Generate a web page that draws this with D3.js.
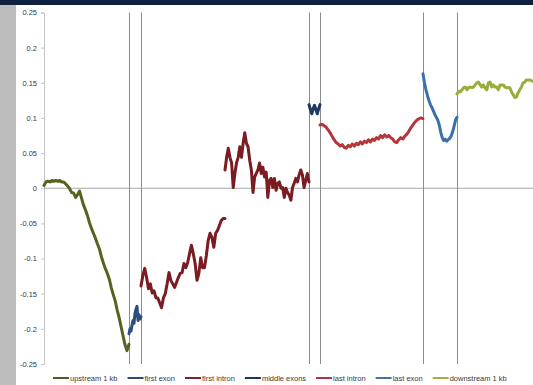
<!DOCTYPE html>
<html>
<head>
<meta charset="utf-8">
<script src="https://cdn.jsdelivr.net/npm/d3@7"></script>
<style>
  html, body { margin: 0; padding: 0; background: #ffffff; }
  svg { display: block; }
</style>
</head>
<body>
<svg id="chart" width="533" height="385"></svg>
<script>
// Relative position along the metagene (bins); region boundaries
const regionBounds = [0, 85, 97, 181, 265, 276, 379, 413, 489];
const separators = [85, 97, 265, 276, 379, 413];

const yTicks = [0.25, 0.2, 0.15, 0.1, 0.05, 0, -0.05, -0.1, -0.15, -0.2, -0.25];
const yTickLabels = ["0.25", "0.2", "0.15", "0.1", "0.05", "0", "-0.05", "-0.1", "-0.15", "-0.2", "-0.25"];

const seriesNames = ["upstream 1 kb", "first exon", "first intron", "middle exons", "last intron", "last exon", "downstream 1 kb"];
const seriesColors = ["#56631f", "#2c4d80", "#7a1c22", "#1f3a60", "#b3363b", "#3b70aa", "#98ae3b"];
const legendColors = ["#505b2c", "#34496c", "#7a2030", "#1f3560", "#b33048", "#4a70a8", "#9cb244"];

const upstream = [0.004, 0.009, 0.010, 0.009, 0.011, 0.010, 0.011, 0.010, 0.011, 0.009,
  0.009, 0.006, 0.003, -0.001, -0.006, -0.007, -0.013, -0.009, -0.004, -0.014,
  -0.024, -0.031, -0.039, -0.049, -0.057, -0.064, -0.071, -0.079, -0.086, -0.097,
  -0.106, -0.114, -0.121, -0.129, -0.141, -0.151, -0.160, -0.173, -0.184, -0.197,
  -0.210, -0.223, -0.231, -0.222];

const firstExon = [-0.207, -0.200, -0.203, -0.195, -0.188, -0.192, -0.178, -0.172, -0.168, -0.188, -0.180, -0.186, -0.183];

const firstIntronHead = [-0.139, -0.124, -0.114, -0.127, -0.143, -0.136, -0.149, -0.146, -0.156, -0.156,
  -0.163, -0.170, -0.156, -0.150, -0.136, -0.120, -0.131, -0.136, -0.141, -0.134,
  -0.127, -0.121, -0.120, -0.107, -0.113, -0.106, -0.093, -0.081, -0.093, -0.107,
  -0.131, -0.121, -0.099, -0.113, -0.113, -0.096, -0.074, -0.064, -0.070, -0.084,
  -0.064, -0.060, -0.053, -0.046, -0.043, -0.043];

const firstIntronTail = [0.026, 0.044, 0.057, 0.044, 0.036, 0.001, 0.021, 0.036, 0.044, 0.059,
  0.044, 0.064, 0.079, 0.064, 0.059, 0.040, 0.026, -0.006, 0.016, 0.021,
  0.026, 0.036, 0.021, 0.030, 0.016, 0.023, -0.013, 0.011, 0.014, 0.001,
  0.014, -0.003, 0.007, 0.009, 0.000, 0.001, -0.013, 0.000, -0.006, -0.010,
  -0.017, 0.001, 0.007, 0.014, 0.009, 0.019, 0.026, 0.019, 0.001, 0.011,
  0.021, 0.009];

const middleExons = [0.119, 0.112, 0.106, 0.113, 0.118, 0.112, 0.106, 0.113, 0.119];

const lastIntron = [0.090, 0.091, 0.089, 0.087, 0.083, 0.079, 0.074, 0.069, 0.065, 0.063,
  0.060, 0.062, 0.058, 0.057, 0.061, 0.059, 0.063, 0.060, 0.064, 0.062,
  0.066, 0.063, 0.067, 0.065, 0.069, 0.066, 0.070, 0.068, 0.072, 0.070,
  0.075, 0.072, 0.076, 0.073, 0.075, 0.072, 0.070, 0.066, 0.065, 0.069,
  0.072, 0.070, 0.074, 0.077, 0.081, 0.086, 0.090, 0.094, 0.097, 0.099,
  0.100, 0.099];

const lastExon = [0.163, 0.150, 0.140, 0.132, 0.125, 0.119, 0.115, 0.110, 0.105, 0.101,
  0.097, 0.090, 0.080, 0.072, 0.068, 0.070, 0.067, 0.069, 0.071, 0.074,
  0.080, 0.088, 0.097, 0.101];

const downstream = [0.134, 0.138, 0.137, 0.140, 0.143, 0.144, 0.140, 0.143, 0.144, 0.143,
  0.144, 0.147, 0.150, 0.151, 0.147, 0.144, 0.147, 0.143, 0.140, 0.150,
  0.151, 0.144, 0.147, 0.144, 0.144, 0.140, 0.147, 0.147, 0.147, 0.144,
  0.143, 0.143, 0.143, 0.137, 0.133, 0.129, 0.130, 0.136, 0.140, 0.144,
  0.150, 0.151, 0.154, 0.154, 0.154, 0.153, 0.152];

// Each piece: which series it belongs to, its values and the region span it covers
const pieces = [
  { s: 0, values: upstream,         from: regionBounds[0], to: regionBounds[1] },
  { s: 1, values: firstExon,        from: regionBounds[1], to: regionBounds[2] },
  { s: 2, values: firstIntronHead,  from: regionBounds[2], to: regionBounds[3] },
  { s: 2, values: firstIntronTail,  from: regionBounds[3], to: regionBounds[4] },
  { s: 3, values: middleExons,      from: regionBounds[4], to: regionBounds[5] },
  { s: 4, values: lastIntron,       from: regionBounds[5], to: regionBounds[6] },
  { s: 5, values: lastExon,         from: regionBounds[6], to: regionBounds[7] },
  { s: 6, values: downstream,       from: regionBounds[7], to: regionBounds[8] }
];

const svg = d3.select("#chart");
const W = 533, H = 385;

// page frame: dark band on top, grey strip at left
svg.append("rect").attr("x", 0).attr("y", 0).attr("width", W).attr("height", H).attr("fill", "#ffffff");
svg.append("rect").attr("x", 0).attr("y", 0).attr("width", 16).attr("height", H).attr("fill", "#bdbdbd");
svg.append("rect").attr("x", 0).attr("y", 0).attr("width", W).attr("height", 5).attr("fill", "#0e2240");

const x = d3.scaleLinear().domain([0, 489]).range([44, 533]);
const y = d3.scaleLinear().domain([-0.25, 0.25]).range([364, 12.5]);

// y axis
const yAxis = d3.axisLeft(y).tickValues(yTicks).tickFormat((d, i) => yTickLabels[i]).tickSize(3).tickPadding(4);
const gy = svg.append("g").attr("transform", `translate(${x(0)},0)`).call(yAxis);
gy.select(".domain").attr("stroke", "#c4c4c4");
gy.selectAll(".tick line").attr("stroke", "#c4c4c4");
gy.selectAll(".tick text")
  .attr("fill", "#3a3a3a")
  .style("font-family", "'Liberation Sans', Arial, sans-serif")
  .style("font-size", "7.5px");

// zero baseline
svg.append("line")
  .attr("x1", x(0)).attr("x2", x(489))
  .attr("y1", y(0)).attr("y2", y(0))
  .attr("stroke", "#a8a8a8").attr("stroke-width", 1);

// region separators
svg.append("g").selectAll("line").data(separators).join("line")
  .attr("x1", d => Math.round(x(d)) + 0.5).attr("x2", d => Math.round(x(d)) + 0.5)
  .attr("y1", y(0.25)).attr("y2", y(-0.25))
  .attr("stroke", "#8c8c8c").attr("stroke-width", 1);

// profile lines
const line = d3.line().x(d => x(d[0])).y(d => y(d[1]));
svg.append("g").selectAll("path").data(pieces).join("path")
  .attr("d", p => {
    const n = p.values.length;
    const step = (p.to - p.from) / (n - 1);
    return line(p.values.map((v, i) => [p.from + i * step, v]));
  })
  .attr("fill", "none")
  .attr("stroke", p => seriesColors[p.s])
  .attr("stroke-width", 3)
  .attr("stroke-linejoin", "round")
  .attr("stroke-linecap", "round");

// legend
const legend = svg.append("g").attr("transform", "translate(53,378)");
let lx = 0;
seriesNames.forEach((name, i) => {
  const g = legend.append("g").attr("transform", `translate(${lx},0)`);
  g.append("line").attr("x1", 0).attr("x2", 16).attr("y1", 0).attr("y2", 0)
    .attr("stroke", legendColors[i]).attr("stroke-width", 2);
  const t = g.append("text").attr("x", 17).attr("y", 2.6)
    .attr("fill", "#3a3a3a")
    .style("font-family", "'Liberation Sans', Arial, sans-serif")
    .style("font-size", "7.5px")
    .text(name);
  lx += 17 + t.node().getComputedTextLength() + 10;
});
</script>
</body>
</html>
